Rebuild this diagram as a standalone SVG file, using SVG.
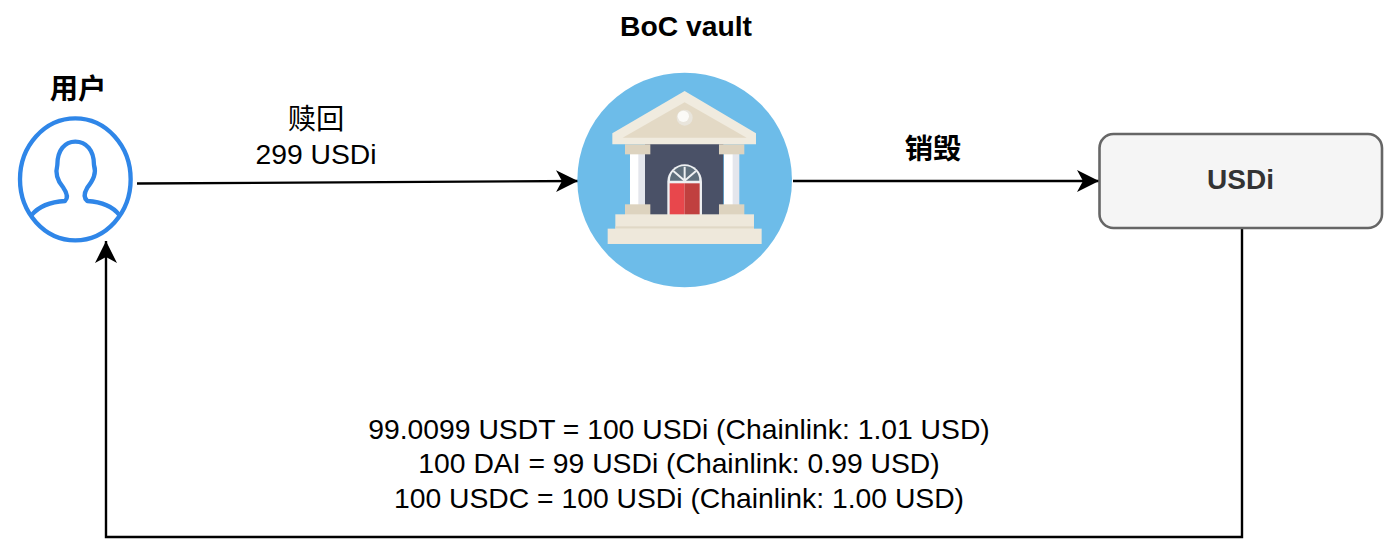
<svg xmlns="http://www.w3.org/2000/svg" width="1395" height="549" viewBox="0 0 1395 549">
<style>
text{font-family:"Liberation Sans","Noto Sans CJK SC",sans-serif;fill:#000;text-anchor:middle}
.t{font-size:28.3px}
.b{font-size:28.3px;font-weight:bold}
.c{fill:none;stroke:#000;stroke-width:2.4}
.p{fill:none;stroke:#2f86e8;stroke-width:13;stroke-linejoin:round;stroke-linecap:round}
</style>
<defs>
<marker id="a" markerUnits="userSpaceOnUse" markerWidth="24" markerHeight="24" refX="22" refY="11" orient="auto"><path d="M0 0L22 11L0 22L6 11Z" fill="#000"/></marker>
</defs>
<rect width="1395" height="549" fill="#fff"/>
<g id="connectors">
<path class="c" d="M137 183.500L578 181" marker-end="url(#a)"/>
<path class="c" d="M793 181H1099" marker-end="url(#a)"/>
<path class="c" d="M1242 229V537H106V241" marker-end="url(#a)"/>
</g>
<g id="user">
<g transform="translate(0,65) scale(.3333)">
<ellipse class="p" cx="226" cy="343" rx="166" ry="183" fill="#fff"/>
<path class="p" d="M95 450C120 420 160 410 195 408C203 400 202 385 190 368C170 345 165 325 172 300C172 255 195 230 226 230C258 230 282 255 282 300C290 325 280 345 262 368C252 385 252 400 262 408C295 410 335 420 358 450"/>
</g>
<text class="b" x="78" y="99">用户</text>
</g>
<g id="vault">
<text class="b" x="686" y="36">BoC vault</text>
<g transform="translate(570,65) scale(.3333)">
<circle cx="344" cy="345" r="322" fill="#6dbce9"/>
<rect x="225" y="235" width="235" height="215" fill="#4a5167"/>
<rect x="180" y="265" width="45" height="155" fill="#fff"/>
<rect x="205" y="265" width="20" height="155" fill="#e4e6ec"/>
<rect x="462" y="265" width="45" height="155" fill="#fff"/>
<rect x="488" y="265" width="20" height="155" fill="#e4e6ec"/>
<rect x="165" y="238" width="76" height="30" fill="#ddd3bf"/>
<rect x="447" y="238" width="76" height="30" fill="#ddd3bf"/>
<rect x="165" y="418" width="76" height="32" fill="#ddd3bf"/>
<rect x="447" y="418" width="76" height="32" fill="#ddd3bf"/>
<path d="M344 78L558 205V238H127V205Z" fill="#f0ebdf"/>
<path d="M344 112L530 218H158Z" fill="#e3d9c5"/>
<circle cx="344" cy="158" r="24" fill="#e9e5dc"/>
<circle cx="340" cy="154" r="17" fill="#fbfaf7"/>
<path d="M292 450V350A52 52 0 0 1 396 350V450Z" fill="#eef0f2"/>
<path d="M300 347A44 44 0 0 1 388 347Z" fill="#5f6f7c"/>
<path d="M344 305V347M344 347L310 318M344 347L378 318" stroke="#eef0f2" stroke-width="6" fill="none"/>
<rect x="299" y="355" width="45" height="95" fill="#e8474c"/>
<rect x="344" y="355" width="45" height="95" fill="#c0403f"/>
<rect x="136" y="448" width="416" height="45" fill="#eee8db"/>
<rect x="136" y="484" width="416" height="7" fill="#e0d8c6"/>
<rect x="113" y="491" width="462" height="46" fill="#eee8db"/>
</g>
</g>
<g id="usdi">
<rect x="1099.500" y="134" width="282.500" height="94" rx="14" fill="#f5f5f5" stroke="#666" stroke-width="2.600"/>
<text x="1240.500" y="189" style="font-size:28px;font-weight:bold;fill:#333">USDi</text>
</g>
<g id="labels">
<text class="t" x="316" y="129">赎回</text>
<text class="t" x="316" y="164">299 USDi</text>
<text class="b" x="933" y="159">销毁</text>
<text class="t" x="679" y="439">99.0099 USDT = 100 USDi (Chainlink: 1.01 USD)</text>
<text class="t" x="679" y="473">100 DAI = 99 USDi (Chainlink: 0.99 USD)</text>
<text class="t" x="679" y="508">100 USDC = 100 USDi (Chainlink: 1.00 USD)</text>
</g>
</svg>
